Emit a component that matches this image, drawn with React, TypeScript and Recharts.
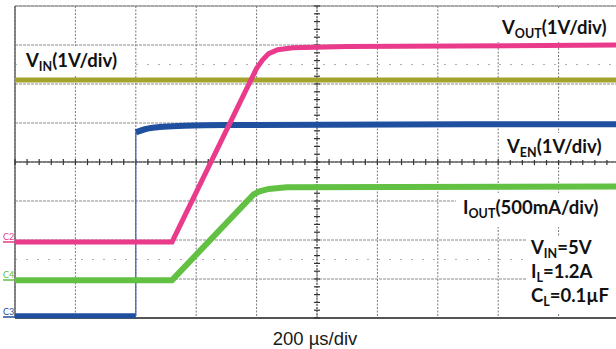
import React from 'react';
import {
  LineChart,
  Line,
  XAxis,
  YAxis,
  CartesianGrid,
  ReferenceLine
} from 'recharts';

// time in µs (200 µs/div), level in screen divisions counted from the bottom
const vinTime = [0, 2000];
const vinLevel = [6.1, 6.1];

const voutTime = [0, 520, 800, 820, 840, 870, 920, 1100, 2000];
const voutLevel = [1.95, 1.95, 6.4, 6.62, 6.78, 6.88, 6.93, 6.96, 7.0];

const venLowTime = [0, 400];
const venLowLevel = [0.06, 0.06];
const venEdgeTime = [400, 400];
const venEdgeLevel = [0.06, 4.76];
const venHighTime = [400, 430, 480, 560, 700, 2000];
const venHighLevel = [4.76, 4.84, 4.9, 4.93, 4.95, 4.97];

const ioutTime = [0, 520, 790, 810, 840, 900, 2000];
const ioutLevel = [0.97, 0.97, 3.17, 3.25, 3.31, 3.35, 3.37];

const timeTicks = [0, 200, 400, 600, 800, 1000, 1200, 1400, 1600, 1800, 2000];
const divTicks = [0, 1, 2, 3, 4, 5, 6, 7, 8];

const toPoints = (t: number[], v: number[]) => t.map((x, i) => ({ t: x, v: v[i] }));

const vinData = toPoints(vinTime, vinLevel);
const voutData = toPoints(voutTime, voutLevel);
const venLowData = toPoints(venLowTime, venLowLevel);
const venEdgeData = toPoints(venEdgeTime, venEdgeLevel);
const venHighData = toPoints(venHighTime, venHighLevel);
const ioutData = toPoints(ioutTime, ioutLevel);

// minor tick marks on the centre cross (5 per division)
const minorT = Array.from({ length: 51 }, (_, i) => i * 40);
const minorV = Array.from({ length: 41 }, (_, i) => i * 0.2);

const FONT = 'Lato, "Open Sans", sans-serif';

const Sig = ({
  x,
  y,
  main,
  sub,
  rest
}: {
  x: number;
  y: number;
  main: string;
  sub: string;
  rest: string;
}) => (
  <text x={x} y={y} fontFamily={FONT} fontWeight={700} fontSize={18.5} fill="#111">
    {main}
    <tspan fontSize={12.5} dy={4}>
      {sub}
    </tspan>
    <tspan dy={-4}>{rest}</tspan>
  </text>
);

const App = () => {
  return (
    <div
      style={{
        position: 'absolute',
        left: 0,
        top: 0,
        width: 616,
        height: 349,
        overflow: 'hidden',
        background: '#fff'
      }}
    >
      <LineChart
        width={640}
        height={349}
        margin={{ top: 6, right: 21, bottom: 31, left: 15 }}
      >
        <XAxis
          type="number"
          dataKey="t"
          domain={[0, 2000]}
          ticks={timeTicks}
          hide
        />
        <YAxis type="number" dataKey="v" domain={[0, 8]} ticks={divTicks} hide />
        <CartesianGrid
          vertical={false}
          stroke="#8a8a8a"
          strokeDasharray="3 1"
        />
        <CartesianGrid
          horizontal={false}
          stroke="#7a7a7a"
          strokeDasharray="2 1.5"
        />
        <ReferenceLine y={6.5} stroke="#b0b0b0" strokeDasharray="2 9" />
        <ReferenceLine y={1.5} stroke="#b0b0b0" strokeDasharray="2 9" />
        <ReferenceLine y={8} stroke="#8a8a8a" strokeWidth={1} />
        <ReferenceLine x={0} stroke="#666" strokeWidth={1.5} />
        <ReferenceLine y={0} stroke="#555" strokeWidth={2} />
        <ReferenceLine y={4} stroke="#333" strokeWidth={1.2} />
        <ReferenceLine x={1000} stroke="#555" strokeWidth={1} strokeDasharray="2 1" />
        {minorT.map((t) => (
          <ReferenceLine
            key={'h' + t}
            segment={[
              { x: t, y: 3.92 },
              { x: t, y: 4.08 }
            ]}
            stroke="#333"
            strokeWidth={1.2}
          />
        ))}
        {minorV.map((v) => (
          <ReferenceLine
            key={'v' + v}
            segment={[
              { x: 990, y: v },
              { x: 1010, y: v }
            ]}
            stroke="#333"
            strokeWidth={1.2}
          />
        ))}
        <Line
          data={vinData}
          dataKey="v"
          type="linear"
          stroke="#a3a32e"
          strokeWidth={5}
          dot={false}
          isAnimationActive={false}
        />
        <Line
          data={venLowData}
          dataKey="v"
          type="linear"
          stroke="#1f4f9f"
          strokeWidth={5}
          dot={false}
          isAnimationActive={false}
        />
        <Line
          data={venEdgeData}
          dataKey="v"
          type="linear"
          stroke="#3a5db0"
          strokeWidth={1.2}
          dot={false}
          isAnimationActive={false}
        />
        <Line
          data={venHighData}
          dataKey="v"
          type="monotone"
          stroke="#1f4f9f"
          strokeWidth={6}
          dot={false}
          isAnimationActive={false}
        />
        <Line
          data={ioutData}
          dataKey="v"
          type="linear"
          stroke="#62c043"
          strokeWidth={6}
          dot={false}
          isAnimationActive={false}
        />
        <Line
          data={voutData}
          dataKey="v"
          type="linear"
          stroke="#ea3a8c"
          strokeWidth={5}
          dot={false}
          isAnimationActive={false}
        />
      </LineChart>
      <svg
        width={616}
        height={349}
        style={{ position: 'absolute', left: 0, top: 0, pointerEvents: 'none' }}
      >
        <rect x={17} y={46} width={117} height={30} fill="#fff" />
        <rect x={496} y={8} width={120} height={34} fill="#fff" />
        <rect x={500} y={133} width={116} height={27} fill="#fff" />
        <rect x={456} y={193} width={160} height={34} fill="#fff" />
        <rect x={526} y={236} width={90} height={77} fill="#fff" />
        <Sig x={26} y={67} main="V" sub="IN" rest="(1V/div)" />
        <Sig x={502} y={34} main="V" sub="OUT" rest="(1V/div)" />
        <Sig x={507} y={153} main="V" sub="EN" rest="(1V/div)" />
        <Sig x={463} y={214} main="I" sub="OUT" rest="(500mA/div)" />
        <Sig x={531} y={254} main="V" sub="IN" rest="=5V" />
        <Sig x={531} y={278} main="I" sub="L" rest="=1.2A" />
        <Sig x={531} y={302} main="C" sub="L" rest="=0.1µF" />
        <text x={3} y={240} fontFamily={FONT} fontSize={9} fill="#ea3a8c">
          C2
        </text>
        <line x1={3} y1={242} x2={15} y2={242} stroke="#ea3a8c" strokeWidth={1.5} />
        <text x={3} y={278} fontFamily={FONT} fontSize={9} fill="#62c043">
          C4
        </text>
        <line x1={3} y1={280} x2={15} y2={280} stroke="#62c043" strokeWidth={1.5} />
        <text x={3} y={315} fontFamily={FONT} fontSize={9} fill="#1f4f9f">
          C3
        </text>
        <line x1={3} y1={317} x2={15} y2={317} stroke="#1f4f9f" strokeWidth={1.5} />
        <text
          x={315}
          y={345}
          textAnchor="middle"
          fontFamily='"Liberation Sans", Arial, sans-serif'
          fontSize={18.5}
          fill="#1a1a1a"
        >
          200 µs/div
        </text>
      </svg>
    </div>
  );
};

export default App;
